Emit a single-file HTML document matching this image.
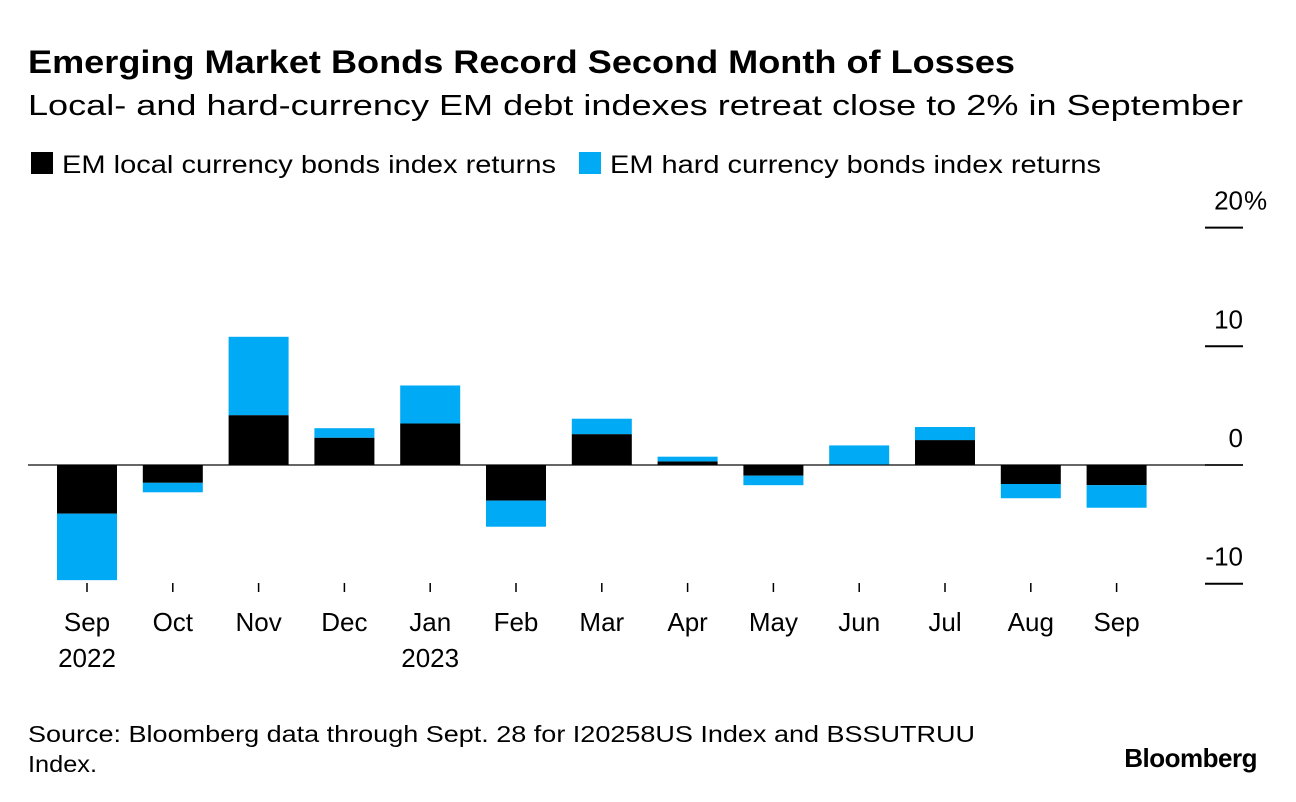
<!DOCTYPE html>
<html><head><meta charset="utf-8"><style>
body{margin:0;width:1296px;height:802px;background:#fff;font-family:"Liberation Sans",sans-serif;overflow:hidden}
</style></head><body>
<svg width="1296" height="802" style="position:absolute;left:0;top:0;font-family:'Liberation Sans',sans-serif">
<text x="28" y="73" font-size="32" font-weight="bold" fill="#000" textLength="987" lengthAdjust="spacingAndGlyphs">Emerging Market Bonds Record Second Month of Losses</text>
<text x="28" y="115" font-size="29" fill="#000" textLength="1215" lengthAdjust="spacingAndGlyphs">Local- and hard-currency EM debt indexes retreat close to 2% in September</text>
<g>
<rect x="31" y="152" width="22" height="22" fill="#000"/>
<text x="62" y="173" font-size="25" textLength="494" lengthAdjust="spacingAndGlyphs">EM local currency bonds index returns</text>
<rect x="579" y="152" width="22" height="22" fill="#00aaf5"/>
<text x="610" y="173" font-size="25" textLength="491" lengthAdjust="spacingAndGlyphs">EM hard currency bonds index returns</text>
</g>
<g id="plot"></g>
<text x="28" y="742" font-size="23" textLength="947" lengthAdjust="spacingAndGlyphs">Source: Bloomberg data through Sept. 28 for I20258US Index and BSSUTRUU</text>
<text x="28" y="772" font-size="23" textLength="69" lengthAdjust="spacingAndGlyphs">Index.</text>
<text x="1257" y="767" font-size="26" font-weight="bold" text-anchor="end" letter-spacing="-0.5">Bloomberg</text>
</svg>
<script>
const categories=["Sep","Oct","Nov","Dec","Jan","Feb","Mar","Apr","May","Jun","Jul","Aug","Sep"];
const years=["2022","","","","2023","","","","","","","",""];
const localVals=[-4.1,-1.5,4.2,2.3,3.5,-3.0,2.6,0.3,-0.9,0.05,2.1,-1.6,-1.7];
const hardVals=[-5.6,-0.8,6.6,0.8,3.2,-2.2,1.3,0.4,-0.8,1.6,1.1,-1.2,-1.9];
const yTicks=[20,10,0,-10];
const yTickLabels=["20","10","0","-10"];
const NS="http://www.w3.org/2000/svg";
const g=document.getElementById('plot');
function y(v){return 465-v*11.87;}
function x(i){return 87+i*85.8;}
function mk(t,a){const e=document.createElementNS(NS,t);for(const k in a)e.setAttribute(k,a[k]);g.appendChild(e);return e;}
yTicks.forEach((t,i)=>{
 const l=mk('line',{x1:1205,x2:1243,y1:y(t),y2:y(t),stroke:'#000','stroke-width':2});
 
 
 const tx=mk('text',{x:1243,y:y(t)-18,'font-size':26,'text-anchor':'end'});
 tx.textContent=yTickLabels[i];
 
 
});
const pct=mk('text',{x:1244,y:y(20)-18,'font-size':26});
pct.textContent='%';


const zl=mk('line',{x1:28,x2:1243,y1:465,y2:465,stroke:'#333','stroke-width':1.5});


categories.forEach((c,i)=>{
 const cx=x(i),w=60;
 const l=localVals[i],h=hardVals[i];
 const r1=mk('rect',{x:cx-w/2,y:Math.min(y(0),y(l)),width:w,height:Math.abs(y(l)-y(0)),fill:'#000'});
 
 
 const base=(Math.sign(h)===Math.sign(l))?l:0;
 const r2=mk('rect',{x:cx-w/2,y:Math.min(y(base),y(base+h)),width:w,height:Math.abs(y(base+h)-y(base)),fill:'#00aaf5'});
 
 
 const tk=mk('line',{x1:cx,x2:cx,y1:583,y2:592,stroke:'#000','stroke-width':1.5});
 
 
 const t=mk('text',{x:cx,y:631,'font-size':26,'text-anchor':'middle'});t.textContent=c;
 
 
 if(years[i]){const t2=mk('text',{x:cx,y:667,'font-size':26,'text-anchor':'middle'});t2.textContent=years[i];
 
 }
});
</script>
</body></html>
